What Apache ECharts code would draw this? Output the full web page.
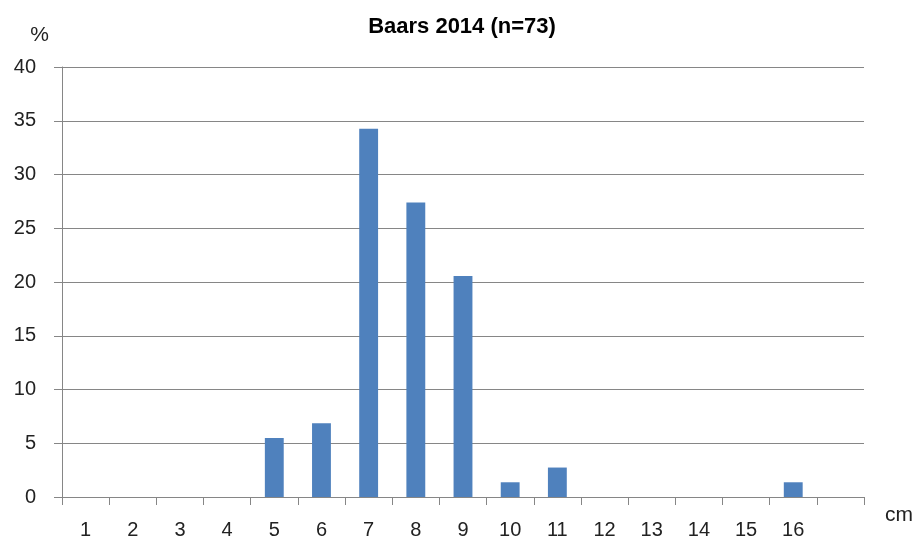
<!DOCTYPE html>
<html>
<head>
<meta charset="utf-8">
<script src="https://cdn.jsdelivr.net/npm/echarts@6/dist/echarts.min.js"></script>
<style>
  html, body { margin: 0; padding: 0; background: #fff; }
  #chart { width: 924px; height: 541px; }
</style>
</head>
<body>
<div id="chart"></div>
<script>
// lengteklassen (cm), laatste slot is leeg zoals in het origineel
const categories = ['1', '2', '3', '4', '5', '6', '7', '8', '9', '10', '11', '12', '13', '14', '15', '16', '']
// percentage per klasse (n=73)
const percentages = [0, 0, 0, 0, 5.48, 6.85, 34.25, 27.4, 20.55, 1.37, 2.74, 0, 0, 0, 0, 1.37, 0]
const yTicks = { min: 0, max: 40, interval: 5 }

const chart = echarts.init(document.getElementById('chart'))
const font = 'Liberation Sans, Arial, sans-serif'

chart.setOption({
  animation: false,
  title: {
    text: 'Baars 2014 (n=73)',
    left: 'center',
    top: 11,
    textStyle: { fontFamily: font, fontSize: 22, fontWeight: 'bold', color: '#000' },
  },
  grid: { left: 62, right: 60, top: 67, bottom: 44 },
  xAxis: {
    type: 'category',
    data: categories,
    name: 'cm',
    nameLocation: 'end',
    nameGap: 21,
    nameTextStyle: { fontFamily: font, fontSize: 21, color: '#222', verticalAlign: 'top', padding: [8, 0, 0, 0] },
    axisLine: { lineStyle: { color: '#868686', width: 1 } },
    axisTick: { show: true, alignWithLabel: false, length: 8, lineStyle: { color: '#868686' } },
    axisLabel: { fontFamily: font, fontSize: 20, color: '#222', margin: 23, interval: 0 },
  },
  yAxis: {
    type: 'value',
    min: yTicks.min,
    max: yTicks.max,
    interval: yTicks.interval,
    name: '%',
    nameLocation: 'end',
    nameGap: 21,
    nameTextStyle: { fontFamily: font, fontSize: 21, color: '#222', align: 'right', padding: [0, 13, 0, 0] },
    axisLine: { show: true, lineStyle: { color: '#868686', width: 1 } },
    axisTick: { show: true, length: 8, lineStyle: { color: '#868686' } },
    axisLabel: { fontFamily: font, fontSize: 20, color: '#222', margin: 26 },
    splitLine: { lineStyle: { color: '#868686', width: 1 } },
  },
  series: [
    {
      type: 'bar',
      data: percentages,
      barWidth: '40%',
      itemStyle: { color: '#4f81bd' },
    },
  ],
})
</script>
</body>
</html>
